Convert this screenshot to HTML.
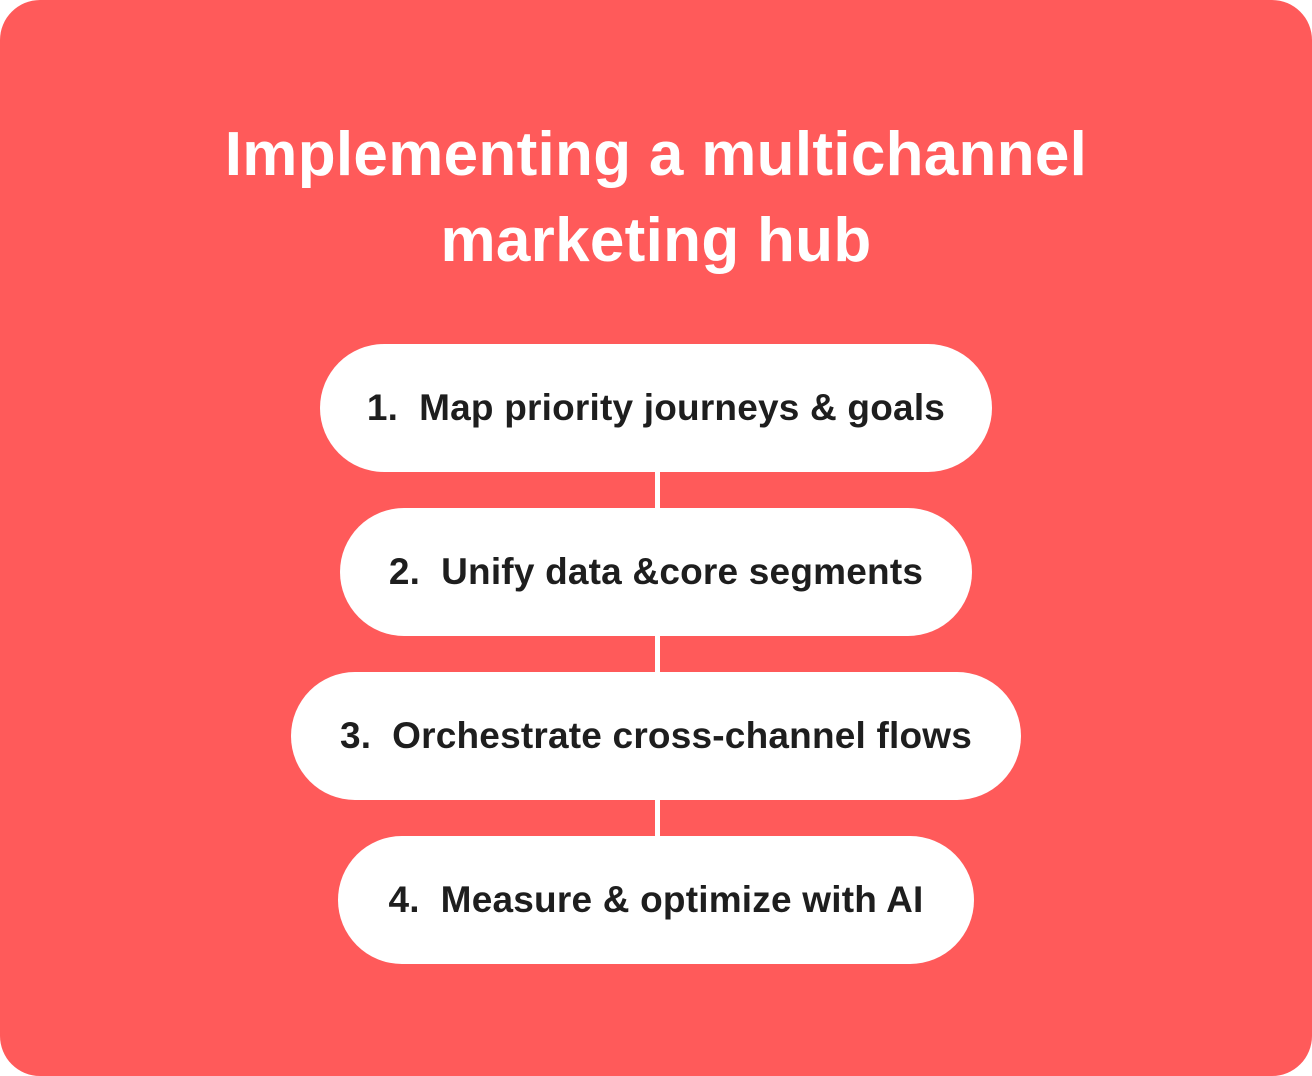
<!DOCTYPE html>
<html><head><style>
html,body{margin:0;padding:0;background:#fff;}
.wrap{position:relative;width:1312px;height:1076px;background:#FF5A5A;border-radius:40px;overflow:hidden;font-family:"Liberation Sans",sans-serif;}
h1{position:absolute;left:0;right:0;top:112px;margin:0;text-align:center;color:#fff;font-size:62px;line-height:86px;font-weight:bold;letter-spacing:0.3px;}
.pill{position:absolute;height:128px;background:#fff;border-radius:64px;display:flex;align-items:center;justify-content:center;font-size:37px;font-weight:bold;color:#1e1e1e;letter-spacing:0.2px;}
.line{position:absolute;left:655px;width:5px;height:36px;background:#fff;}
</style></head><body>
<div class="wrap">
<h1>Implementing a multichannel<br>marketing hub</h1>
<div class="pill" style="left:320px;width:672px;top:344px;">1.&nbsp; Map priority journeys &amp; goals</div>
<div class="line" style="top:472px"></div>
<div class="pill" style="left:340px;width:632px;top:508px;">2.&nbsp; Unify data &amp;core segments</div>
<div class="line" style="top:636px"></div>
<div class="pill" style="left:291px;width:730px;top:672px;">3.&nbsp; Orchestrate cross-channel flows</div>
<div class="line" style="top:800px"></div>
<div class="pill" style="left:338px;width:636px;top:836px;">4.&nbsp; Measure &amp; optimize with AI</div>
</div>
</body></html>
